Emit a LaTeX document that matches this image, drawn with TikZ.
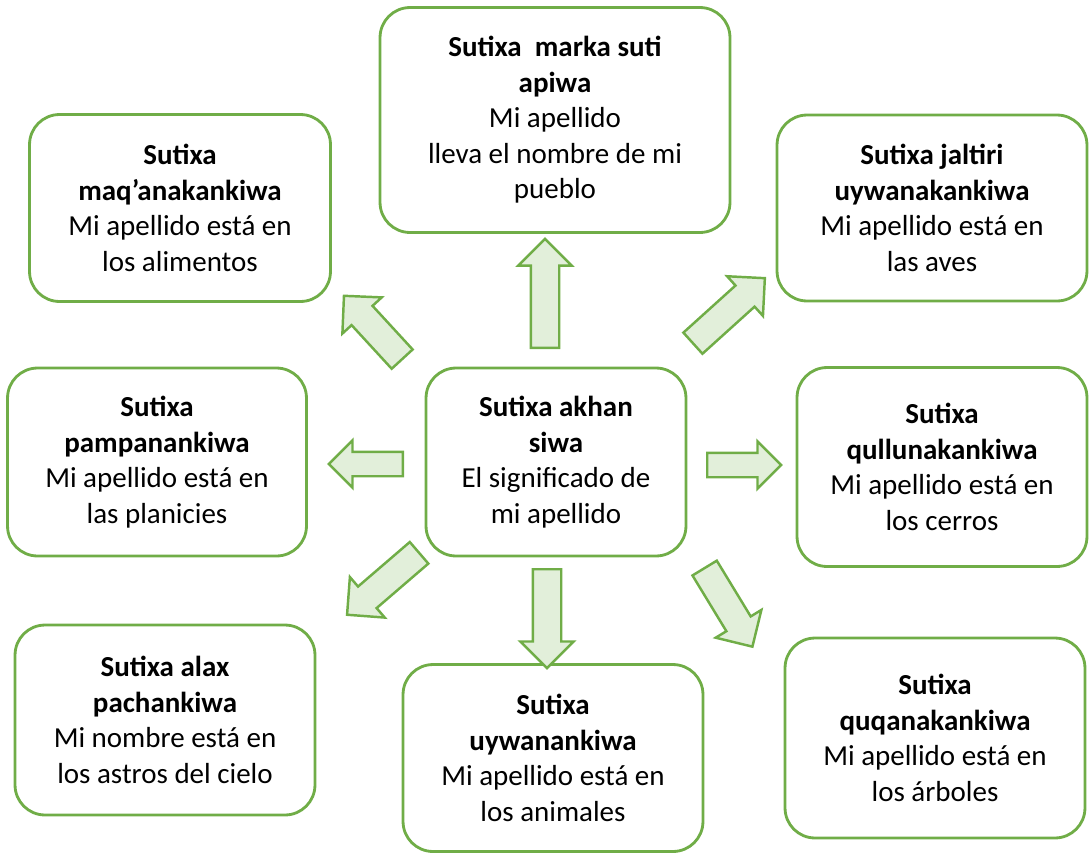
\documentclass[tikz,border=0pt]{standalone}
\usepackage{fontspec}
\setmainfont{Carlito}
\usepackage{tikz}
\usetikzlibrary{shapes,arrows}
\definecolor{boxgreen}{HTML}{70AD47}
\definecolor{lightgreen}{HTML}{E2EFDA}
\tikzstyle{card} = [rectangle, draw=boxgreen, line width=1.6pt, fill=white,
    rounded corners=0.6cm, align=center, font=\fontsize{16.5}{20.2}\selectfont]
\tikzstyle{bigarrow} = [single arrow, draw=boxgreen, fill=lightgreen, line width=1.4pt,
    inner sep=0.26cm, single arrow head extend=0.25cm, single arrow tip angle=90,
    minimum width=0cm, anchor=tail]
\tikzstyle{smallarrow} = [bigarrow, inner sep=0.22cm, single arrow head extend=0.23cm]

\begin{document}
\begin{tikzpicture}[x=0.02cm, y=-0.02cm]
    \useasboundingbox (0,0) rectangle (1089,853);
    % Place nodes
    % Centre
    \node [card, minimum width=5.2cm, minimum height=3.76cm] (Ctr) at (556,462)
        {\textbf{Sutixa akhan}\\\textbf{siwa}\\El significado de\\mi apellido};
    % Outer cards
    \node [card, minimum width=7cm, minimum height=4.5cm] (Top) at (555,120)
        {\textbf{Sutixa\ \ marka suti}\\\textbf{apiwa}\\Mi apellido\\lleva el nombre de mi\\pueblo};
    \node [card, minimum width=6.02cm, minimum height=3.74cm] (TL) at (180,208)
        {\textbf{Sutixa}\\\textbf{maq’anakankiwa}\\Mi apellido está en\\los alimentos};
    \node [card, minimum width=6.2cm, minimum height=3.72cm] (TR) at (932,208)
        {\textbf{Sutixa jaltiri}\\\textbf{uywanakankiwa}\\Mi apellido está en\\las aves};
    \node [card, minimum width=5.98cm, minimum height=3.76cm] (ML) at (157,462)
        {\textbf{Sutixa}\\\textbf{pampanankiwa}\\Mi apellido está en\\las planicies};
    \node [card, minimum width=5.8cm, minimum height=3.98cm] (MR) at (942,467)
        {\textbf{Sutixa}\\\textbf{qullunakankiwa}\\Mi apellido está en\\los cerros};
    \node [card, minimum width=6cm, minimum height=3.8cm] (BL) at (165,720)
        {\textbf{Sutixa alax}\\\textbf{pachankiwa}\\Mi nombre está en\\los astros del cielo};
    \node [card, minimum width=6cm, minimum height=3.74cm] (BC) at (553,758)
        {\textbf{Sutixa}\\\textbf{uywanankiwa}\\Mi apellido está en\\los animales};
    \node [card, minimum width=6cm, minimum height=4cm] (BR) at (935,738)
        {\textbf{Sutixa}\\\textbf{quqanakankiwa}\\Mi apellido está en\\los árboles};

    % Arrows out of the centre
    \node [bigarrow, minimum height=2.18cm, rotate=90] (aTop) at (545,349) {};
    \node [bigarrow, minimum height=1.72cm, rotate=132.6] (aTL) at (403,360) {};
    \node [bigarrow, minimum height=1.94cm, rotate=42.1] (aTR) at (692,344) {};
    \node [smallarrow, minimum height=1.48cm, rotate=180] (aML) at (404,464) {};
    \node [smallarrow, minimum height=1.48cm, rotate=0] (aMR) at (706,465) {};
    \node [bigarrow, minimum height=1.9cm, rotate=220.7] (aBL) at (420,552) {};
    \node [bigarrow, minimum height=1.98cm, rotate=270] (aBC) at (547,568) {};
    \node [bigarrow, minimum height=1.84cm, rotate=-58.7] (aBR) at (704,567) {};

\end{tikzpicture}
\end{document}
